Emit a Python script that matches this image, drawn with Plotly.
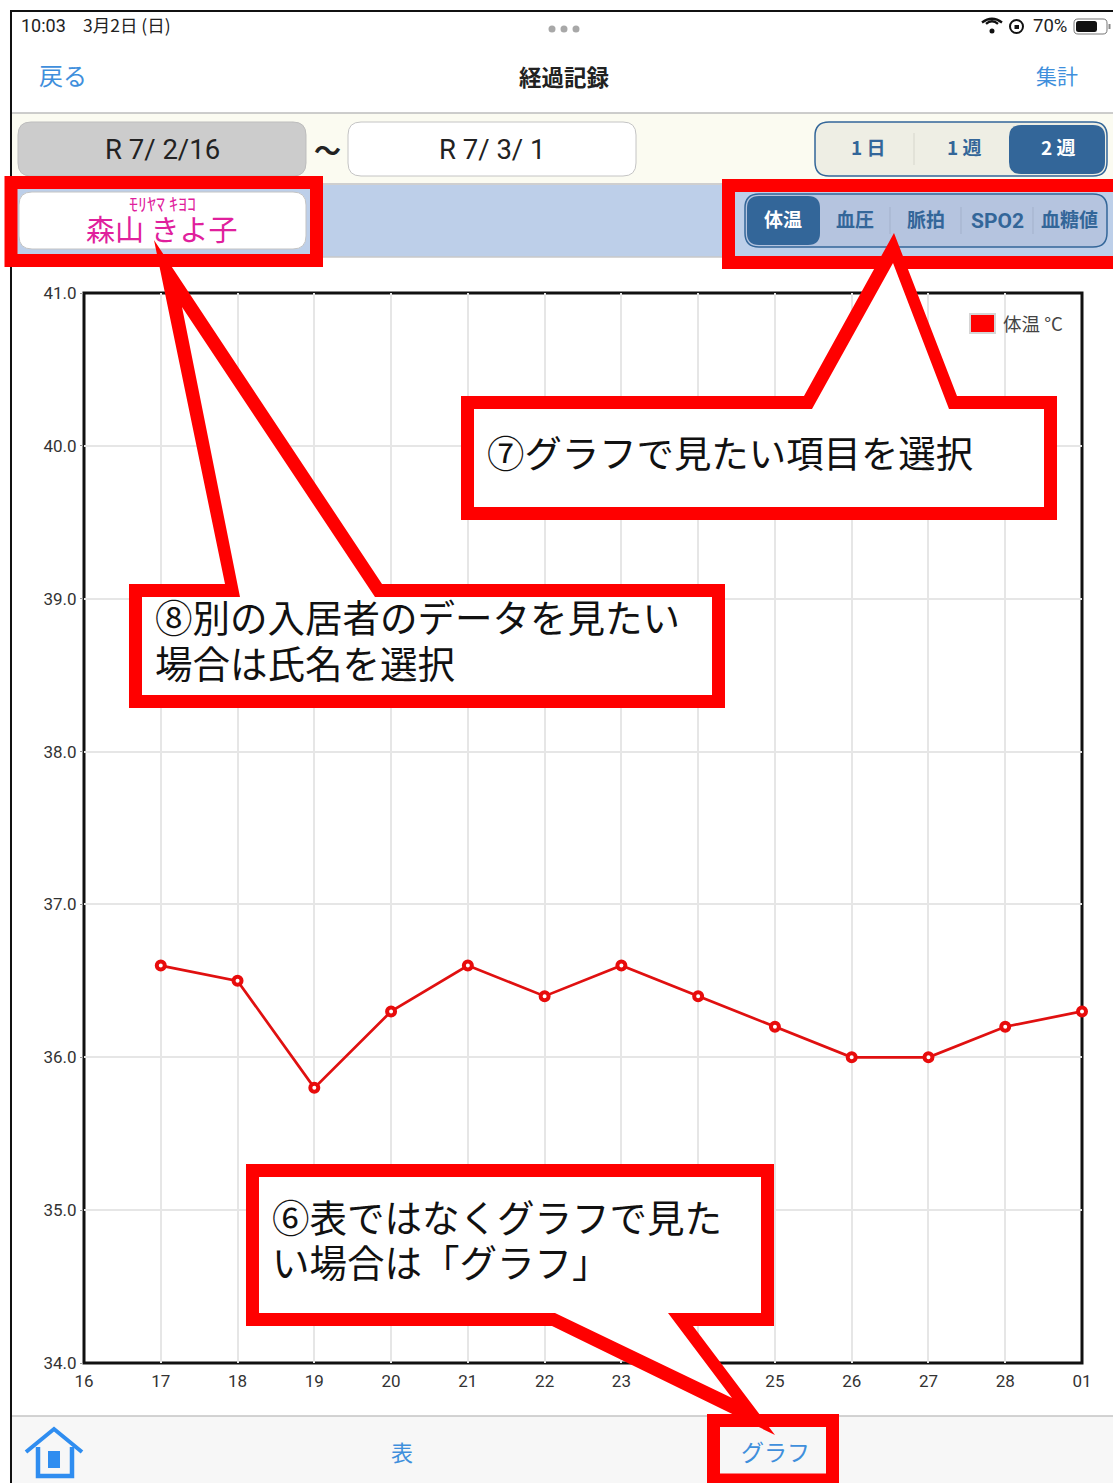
import plotly.graph_objects as go

W, H = 1113, 1483
days = ["16", "17", "18", "19", "20", "21", "22", "23", "24", "25", "26", "27", "28", "01"]
temp_days = ["17", "18", "19", "20", "21", "22", "23", "24", "25", "26", "27", "28", "01"]
temps = [36.6, 36.5, 35.8, 36.3, 36.6, 36.4, 36.6, 36.4, 36.2, 36.0, 36.0, 36.2, 36.3]
y_ticks = [34, 35, 36, 37, 38, 39, 40, 41]
y_labels = ["34.0", "35.0", "36.0", "37.0", "38.0", "39.0", "40.0", "41.0"]

FONT = "Noto Sans CJK JP"
LATIN = "Roboto, Noto Sans CJK JP"
RED = "#ff0000"
BLUE = "#3f8fdc"
NAVY = "#336699"
MAGENTA = "#e0209c"


def X(v):
    return v / W


def Y(v):
    return 1 - v / H


shapes, annos = [], []


def rect(x0, y0, x1, y1, fill=None, line=None, lw=0, layer="above"):
    shapes.append(dict(type="rect", xref="paper", yref="paper", x0=X(x0), x1=X(x1), y0=Y(y0), y1=Y(y1),
                       fillcolor=fill or "rgba(0,0,0,0)", line=dict(color=line or "rgba(0,0,0,0)", width=lw), layer=layer))


def path(points, fill=None, line=None, lw=0, layer="above", closed=True):
    d = "M " + " L ".join(f"{X(a):.5f},{Y(b):.5f}" for a, b in points) + (" Z" if closed else "")
    shapes.append(dict(type="path", xref="paper", yref="paper", path=d, fillcolor=fill or "rgba(0,0,0,0)",
                       line=dict(color=line or "rgba(0,0,0,0)", width=lw), layer=layer))


def rrect(x0, y0, x1, y1, r, fill=None, line=None, lw=0, layer="above"):
    f = lambda a, b: f"{X(a):.5f},{Y(b):.5f}"
    d = (f"M {f(x0+r,y0)} L {f(x1-r,y0)} Q {f(x1,y0)} {f(x1,y0+r)} L {f(x1,y1-r)} Q {f(x1,y1)} {f(x1-r,y1)} "
         f"L {f(x0+r,y1)} Q {f(x0,y1)} {f(x0,y1-r)} L {f(x0,y0+r)} Q {f(x0,y0)} {f(x0+r,y0)} Z")
    shapes.append(dict(type="path", xref="paper", yref="paper", path=d, fillcolor=fill or "rgba(0,0,0,0)",
                       line=dict(color=line or "rgba(0,0,0,0)", width=lw), layer=layer))


def text(x, y, s, size, color="#222222", anchor="center", font=FONT, bold=False):
    if font == FONT:
        y -= 2  # the CJK face sits low in its line box
    annos.append(dict(xref="paper", yref="paper", x=X(x), y=Y(y), text=f"<b>{s}</b>" if bold else s, showarrow=False,
                      xanchor=anchor, yanchor="middle", font=dict(family=font, size=size, color=color),
                      borderpad=0, align="left"))


# Plot frame, under the series
shapes.append(dict(type="rect", xref="x domain", yref="y domain", x0=0, x1=1, y0=0, y1=1,
                   line=dict(color="#111111", width=3), layer="below"))

# App chrome
rect(11, 113, W, 184, fill="#fbfbf1", line=None)
rect(11, 184, W, 257, fill="#bdcfe9")
rect(11, 1416, W, H, fill="#f7f7f7")
path([(11, 113), (W, 113)], line="#bdbdbd", lw=1.5, closed=False)
path([(11, 184), (W, 184)], line="#cfcfcf", lw=2, closed=False)
path([(11, 257), (W, 257)], line="#c8c8c8", lw=1.5, closed=False)
path([(11, 1416), (W, 1416)], line="#c4c4c4", lw=1.5, closed=False)
path([(11, 1483), (11, 11), (W, 11)], line="#111111", lw=2, closed=False)

text(20, 26, "10:03", 18, anchor="left", font=LATIN)
text(82, 27, "3月2日 (日)", 17.5, anchor="left")
for cx in (552, 564, 576):
    shapes.append(dict(type="circle", xref="paper", yref="paper", x0=X(cx - 3.5), x1=X(cx + 3.5), y0=Y(29 + 3.5),
                       y1=Y(29 - 3.5), fillcolor="#a8a8a8", line=dict(width=0), layer="above"))
# wifi
for r_, wdt in ((10, 2.4), (6, 2.4)):
    f = lambda a, b: f"{X(a):.5f},{Y(b):.5f}"
    shapes.append(dict(type="path", xref="paper", yref="paper",
                       path=f"M {f(992-r_,26-r_*0.35)} Q {f(992,15+(10-r_)*0.9)} {f(992+r_,26-r_*0.35)}",
                       line=dict(color="#111111", width=wdt), layer="above"))
shapes.append(dict(type="circle", xref="paper", yref="paper", x0=X(989.5), x1=X(994.5), y0=Y(33.5), y1=Y(28.5),
                   fillcolor="#111111", line=dict(width=0), layer="above"))
shapes.append(dict(type="circle", xref="paper", yref="paper", x0=X(1010), x1=X(1023), y0=Y(33), y1=Y(20),
                   line=dict(color="#111111", width=2), layer="above"))
rect(1014.5, 25, 1019, 29, fill="#111111")
text(1032, 26, "70%", 18.5, anchor="left", font=LATIN)
rrect(1074, 19, 1107, 34, 4, line="#777777", lw=1)
rrect(1076, 21, 1097, 32, 2.5, fill="#111111")
rect(1108.5, 24, 1110.5, 29, fill="#888888")

text(63, 76, "戻る", 24, color=BLUE)
text(564, 78, "経過記録", 22.5, bold=True)
text(1057, 77, "集計", 21, color=BLUE)

rrect(18, 122, 306, 176, 13, fill="#cccccc", line="#bdbdbd", lw=1)
text(162, 149, "R 7/ 2/16", 27.5, font=LATIN)
text(327, 151, "〜", 27, bold=True)
rrect(348, 122, 636, 176, 13, fill="#ffffff", line="#c4c4c4", lw=1)
text(492, 149, "R 7/ 3/ 1", 27.5, font=LATIN)

rrect(815, 122, 1107, 176, 14, fill="#eeeee4", line=NAVY, lw=1.5)
rrect(1009, 125, 1105, 174, 12, fill=NAVY)
path([(914, 133), (914, 165)], line="#d6d6cc", lw=1, closed=False)
text(868, 149, "1 日", 19, color=NAVY, bold=True)
text(964, 149, "1 週", 19, color=NAVY, bold=True)
text(1058, 149, "2 週", 19, color="#ffffff", bold=True)

rrect(19, 192, 306, 249, 13, fill="#ffffff", line="#c4c4c4", lw=1)
text(162, 205, "ﾓﾘﾔﾏ ｷﾖｺ", 18, color=MAGENTA)
text(162, 230, "森山 きよ子", 29, color=MAGENTA)

rrect(745, 194, 1107, 247, 14, fill="#b5c4df", line=NAVY, lw=1.5)
rrect(747, 196, 820, 245, 12, fill=NAVY)
for dx in (890, 961, 1033):
    path([(dx, 207), (dx, 234)], line="#a3b2cc", lw=1, closed=False)
text(783, 221, "体温", 19, color="#ffffff", bold=True)
text(855, 221, "血圧", 19, color=NAVY, bold=True)
text(926, 221, "脈拍", 19, color=NAVY, bold=True)
text(997, 221, "SPO2", 21, color=NAVY, bold=True, font=LATIN)
text(1069, 221, "血糖値", 19, color=NAVY, bold=True)

# Chart legend
rect(970, 314, 995, 333, fill=RED, line="#d5d5d5", lw=2)
text(1002, 325, "体温 °C", 18.5, color="#444444", anchor="left")

# Bottom tab bar
path([(26, 1452), (54, 1429), (82, 1452)], line="#2f8df0", lw=4, closed=False)
path([(38, 1447), (38, 1476), (72, 1476), (72, 1447)], line="#2f8df0", lw=4.5, closed=False)
rect(48, 1451, 60, 1468, fill="#2f8df0")
text(402, 1453, "表", 22, color=BLUE)

# Red selection boxes
rect(11, 182.5, 316.5, 260.5, line=RED, lw=13)
rect(728.5, 185.5, 1125, 262.5, line=RED, lw=13)
rect(713.5, 1420.5, 832.5, 1480, line=RED, lw=13)
text(775, 1453, "グラフ", 23, color=BLUE)

# Callouts: outer red, inner white
path([(461, 396), (804, 396), (894, 233), (957, 396), (1057, 396), (1057, 520), (461, 520)], fill=RED)
path([(474, 409), (812, 409), (893, 263), (949, 409), (1044, 409), (1044, 507), (474, 507)], fill="#ffffff")

path([(129, 584), (225, 584), (154, 240), (382, 584), (725, 584), (725, 708), (129, 708)], fill=RED)
path([(142, 597), (240, 597), (182, 307), (375, 597), (712, 597), (712, 695), (142, 695)], fill="#ffffff")

path([(246, 1164), (774, 1164), (774, 1326), (693, 1326), (775, 1435), (552, 1326), (246, 1326)], fill=RED)
path([(259, 1177), (761, 1177), (761, 1313), (668, 1313), (732, 1398), (555, 1313), (259, 1313)], fill="#ffffff")

text(486, 454, "⑦グラフで見たい項目を選択", 37.4, color="#111111", anchor="left")
text(154, 618, "⑧別の入居者のデータを見たい", 37.5, color="#111111", anchor="left")
text(154, 663, "場合は氏名を選択", 37.5, color="#111111", anchor="left")
text(271, 1217, "⑥表ではなくグラフで見た", 37.5, color="#111111", anchor="left")
text(271, 1262, "い場合は「グラフ」", 37.5, color="#111111", anchor="left")

fig = go.Figure(go.Scatter(
    x=temp_days, y=temps, mode="lines+markers", showlegend=False, cliponaxis=False,
    line=dict(color="#e01010", width=2.7),
    marker=dict(symbol="circle", size=8, color="#ffffff", line=dict(color="#e80c0c", width=4)),
))
fig.update_layout(
    width=W, height=H, margin=dict(l=0, r=0, t=0, b=0, autoexpand=False), paper_bgcolor="#ffffff", plot_bgcolor="#ffffff",
    shapes=shapes, annotations=annos, showlegend=False,
    font=dict(family=LATIN, color="#333333"),
)
fig.update_xaxes(
    type="category", categoryorder="array", categoryarray=days, range=[0, 13], automargin=False,
    domain=[X(84), X(1082)], tickmode="array", tickvals=days, ticktext=days,
    showgrid=True, gridcolor="#e6e6e6", gridwidth=2, showline=False,
    ticks="outside", ticklen=3, tickcolor="rgba(0,0,0,0)", tickfont=dict(size=17, color="#333333"), zeroline=False,
)
fig.update_yaxes(
    range=[34, 41], domain=[Y(1363), Y(293)], tickmode="array", tickvals=y_ticks, ticktext=y_labels, automargin=False,
    showgrid=True, gridcolor="#e6e6e6", gridwidth=2, showline=False,
    ticks="outside", ticklen=3, tickcolor="#999999", tickfont=dict(size=17, color="#333333"), zeroline=False,
)
fig.write_html(
    "out.html",
    post_script="document.body.style.margin='0';document.body.style.overflow='hidden';",
    config=dict(displayModeBar=False),
)
